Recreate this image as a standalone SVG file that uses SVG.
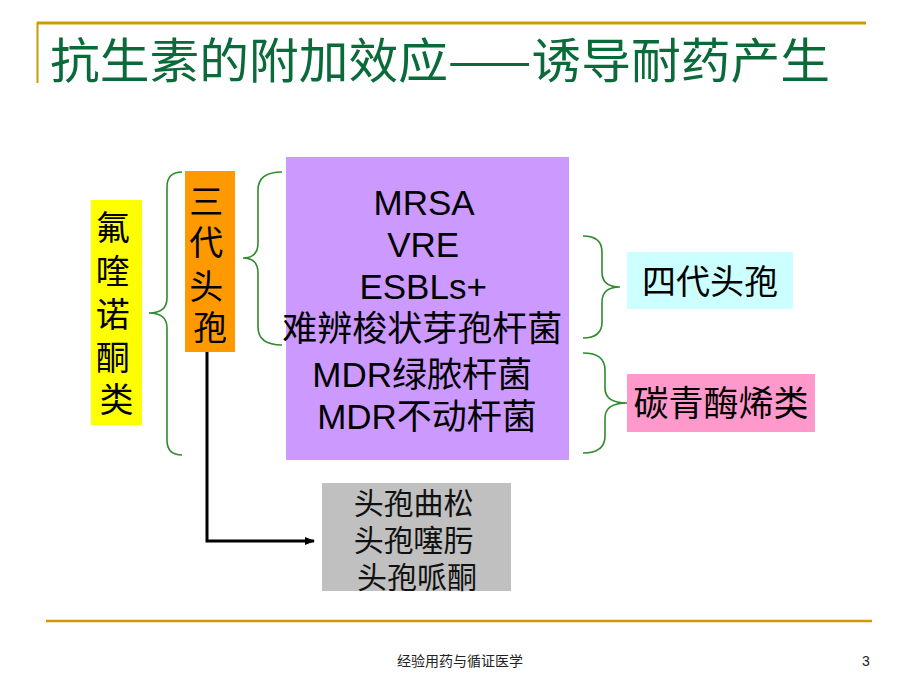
<svg xmlns="http://www.w3.org/2000/svg" width="920" height="690" viewBox="0 0 920 690">
<style>
.cjk{font-family:"Noto Sans CJK SC","Noto Sans",sans-serif;fill:#000}
.lat{font-family:"Liberation Sans","Noto Sans CJK SC",sans-serif;fill:#000}
.brace{fill:none;stroke:#2E8B2E;stroke-width:1.6}
.gold{stroke:#CC9900;fill:none}
</style>
<defs>
<marker id="arr" markerWidth="10" markerHeight="10" refX="9" refY="5" orient="auto" markerUnits="userSpaceOnUse">
<path d="M0,1 L10,5 L0,9 Z" fill="#000"/>
</marker>
</defs>
<rect width="920" height="690" fill="#fff"/>
<g id="frame">
<line class="gold" x1="37" y1="23" x2="866" y2="23" stroke-width="3"/>
<line class="gold" x1="37.5" y1="22" x2="37.5" y2="83" stroke-width="2"/>
<line class="gold" x1="46" y1="621" x2="872" y2="621" stroke-width="2.5"/>
<text x="50" y="78" font-size="48" class="cjk" style="fill:#0A6A3A" textLength="780" lengthAdjust="spacingAndGlyphs">抗生素的附加效应——诱导耐药产生</text>
<text x="460" y="666" font-size="14" class="cjk" text-anchor="middle" style="fill:#222">经验用药与循证医学</text>
<text x="866" y="666" font-size="14" class="lat" text-anchor="middle" style="fill:#222">3</text>
</g>
<g id="connectors">
<path class="brace" d="M182,172 Q167,172 167,187 L167,298 Q167,313 149,313 Q167,313 167,328 L167,440 Q167,455 182,455"/>
<path class="brace" d="M282,172 Q258,172 258,190 L258,243 Q258,258 243,258 Q258,258 258,273 L258,327 Q258,345 282,345"/>
<path class="brace" d="M583,236 Q602,236 602,252 L602,272 Q602,287 620,287 Q602,287 602,302 L602,322 Q602,338 583,338"/>
<path class="brace" d="M583,353 Q605,353 605,370 L605,388 Q605,403 627,403 Q605,403 605,418 L605,436 Q605,453 583,453"/>
<path d="M207,352 L207,541 L314,541" fill="none" stroke="#000" stroke-width="3" marker-end="url(#arr)"/>
</g>
<g id="node-fq">
<rect x="91" y="200" width="51" height="225" fill="#FFFF00"/>
<text class="cjk" font-size="34" text-anchor="middle">
<tspan x="116.5" y="240">氟</tspan>
<tspan x="116.5" y="284">喹</tspan>
<tspan x="116.5" y="327">诺</tspan>
<tspan x="116.5" y="370">酮</tspan>
<tspan x="116.5" y="412">类</tspan>
</text>
</g>
<g id="node-3gc">
<rect x="185" y="171" width="50" height="181" fill="#FF9900"/>
<text class="cjk" font-size="34" text-anchor="middle">
<tspan x="210" y="214">三</tspan>
<tspan x="210" y="255">代</tspan>
<tspan x="210" y="299">头</tspan>
<tspan x="210" y="340">孢</tspan>
</text>
</g>
<g id="node-bacteria">
<rect x="286" y="157" width="283" height="303" fill="#CC99FF"/>
<text class="lat" font-size="35" text-anchor="middle">
<tspan x="428" y="215">MRSA</tspan>
<tspan x="428" y="257">VRE</tspan>
<tspan x="428" y="299">ESBLs+</tspan>
<tspan x="427" y="341">难辨梭状芽孢杆菌</tspan>
<tspan x="427" y="387">MDR绿脓杆菌</tspan>
<tspan x="427" y="429">MDR不动杆菌</tspan>
</text>
</g>
<g id="node-3gc-list">
<rect x="322" y="483" width="189" height="108" fill="#C0C0C0"/>
<text class="cjk" font-size="30" text-anchor="middle" style="fill:#111">
<tspan x="417" y="514">头孢曲松</tspan>
<tspan x="417" y="551">头孢噻肟</tspan>
<tspan x="417" y="588">头孢哌酮</tspan>
</text>
</g>
<g id="node-4gc">
<rect x="627" y="252" width="166" height="57" fill="#CCFFFF"/>
<text x="710" y="294" class="cjk" font-size="34" text-anchor="middle">四代头孢</text>
</g>
<g id="node-carbapenem">
<rect x="627" y="374" width="188" height="58" fill="#FF99CC"/>
<text x="721" y="416" class="cjk" font-size="35" text-anchor="middle">碳青酶烯类</text>
</g>
</svg>
